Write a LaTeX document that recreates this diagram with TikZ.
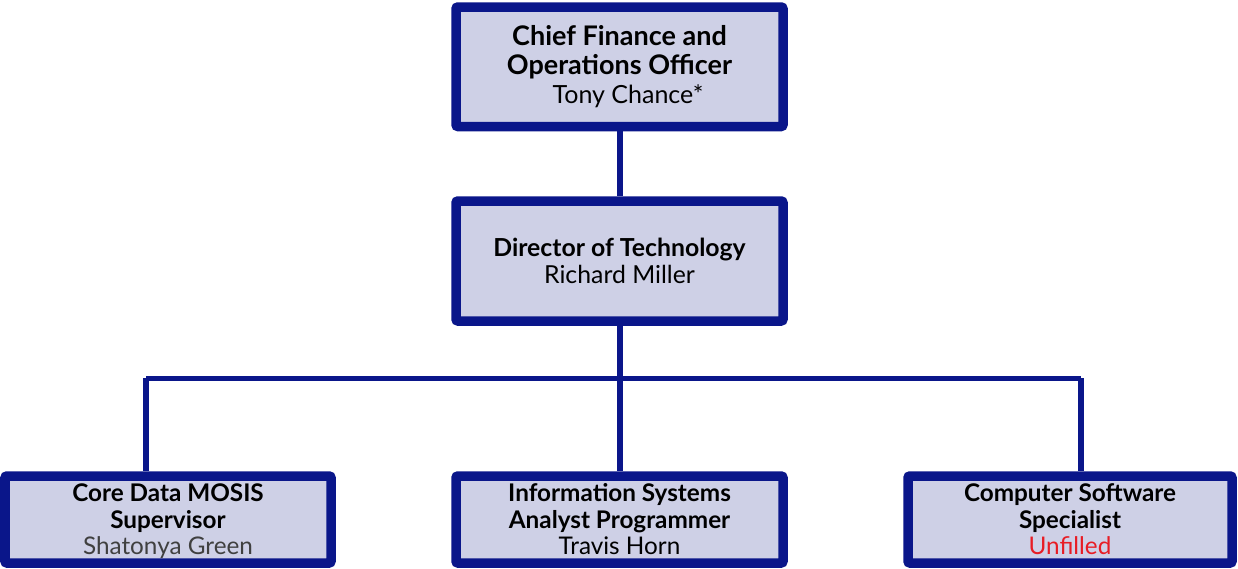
\documentclass[tikz,border=0pt]{standalone}
\usepackage{fontspec}
\setmainfont{Lato}
\definecolor{navy}{RGB}{10,22,138}
\definecolor{lav}{RGB}{206,208,230}
\definecolor{unfilled}{RGB}{232,28,36}
\definecolor{namegray}{RGB}{64,64,64}

\begin{document}
\begin{tikzpicture}[x=1pt, y=-1pt]
  \tikzset{
    post/.style={draw=navy, fill=lav, line width=9.5pt, rounded corners=2pt,
      minimum width=327pt, align=center, inner sep=0pt},
    link/.style={navy, line width=6pt},
  }
  \useasboundingbox (0,0) rectangle (1238,568);

  % top two levels
  \node[post, minimum height=119.5pt, font=\fontsize{25}{29}\selectfont] (cfo) at (619.5,66.75)
    {{\fontsize{27}{29}\selectfont\bfseries Chief Finance and}\\
     {\fontsize{27}{29}\selectfont\bfseries Operations Officer}\\
     \hspace*{17pt}Tony Chance*};
  \node[post, minimum height=120pt, font=\fontsize{24.8}{27}\selectfont] (dot) at (619.5,261)
    {\textbf{Director of Technology}\\Richard Miller};

  % staff
  \node[post, minimum width=326pt, minimum height=87pt, font=\fontsize{24.3}{26.5}\selectfont] (core) at (168,519.5)
    {\textbf{Core Data MOSIS}\vphantom{f}\\\textbf{Supervisor}\\
     \raisebox{0pt}[\height][0pt]{\textcolor{namegray}{Shatonya Green}}};
  \node[post, minimum height=87pt, font=\fontsize{24.3}{26.5}\selectfont] (isap) at (619.5,519.5)
    {\textbf{Information Systems}\\\textbf{Analyst Programmer}\\Travis Horn};
  \node[post, minimum width=324pt, minimum height=87pt, font=\fontsize{24.3}{26.5}\selectfont] (css) at (1070,519.5)
    {\textbf{Computer Software}\\\textbf{Specialist}\\\textcolor{unfilled}{Unfilled}};

  \coordinate (busL) at (146,378);
  \coordinate (busR) at (1081,378);

  \draw[link] (cfo.south) -- (dot.north);
  \draw[link] (dot.south) -- (dot.south |- busL);
  \draw[link, line width=5pt] (busL) -- (busR);
  \draw[link] (busL) -- (busL |- core.north);
  \draw[link] (dot.south |- busL) -- (isap.north);
  \draw[link] (busR) -- (busR |- css.north);
\end{tikzpicture}
\end{document}
